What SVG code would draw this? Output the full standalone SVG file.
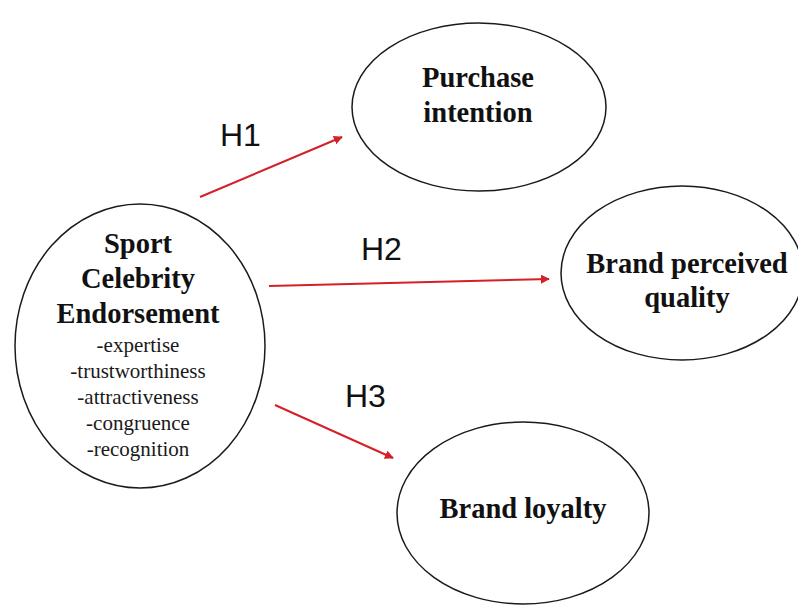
<svg xmlns="http://www.w3.org/2000/svg" width="798" height="605" viewBox="0 0 798 605">
  <defs>
    <marker id="arrow" viewBox="0 0 10 10" refX="9" refY="5" markerWidth="4.5" markerHeight="4.5" orient="auto" markerUnits="strokeWidth">
      <path d="M0,0 L10,5 L0,10 z" fill="#d42027"/>
    </marker>
    <style>
      .node { fill: #ffffff; stroke: #1a1a1a; stroke-width: 1.5; }
      .title { font-family: "Liberation Serif", "Times New Roman", serif; font-weight: bold; font-size: 28.5px; fill: #111111; text-anchor: middle; }
      .item { font-family: "Liberation Serif", "Times New Roman", serif; font-size: 21px; fill: #1a1a1a; text-anchor: middle; }
      .hyp { font-family: "Liberation Sans", Arial, sans-serif; font-size: 32px; fill: #111111; }
      .edge { stroke: #d42027; stroke-width: 2; fill: none; marker-end: url(#arrow); }
    </style>
  </defs>
  <rect width="798" height="605" fill="#ffffff"/>

  <g id="endorsement">
    <ellipse class="node" cx="140" cy="346" rx="125" ry="142"/>
    <text class="title" x="138" y="253">Sport</text>
    <text class="title" x="138" y="288">Celebrity</text>
    <text class="title" x="138" y="323">Endorsement</text>
    <text class="item" x="138" y="352">-expertise</text>
    <text class="item" x="138" y="378">-trustworthiness</text>
    <text class="item" x="138" y="404">-attractiveness</text>
    <text class="item" x="138" y="430">-congruence</text>
    <text class="item" x="138" y="456">-recognition</text>
  </g>

  <g id="purchase-intention">
    <ellipse class="node" cx="479" cy="107" rx="127" ry="84"/>
    <text class="title" x="478" y="87">Purchase</text>
    <text class="title" x="478" y="122">intention</text>
  </g>

  <g id="brand-perceived-quality">
    <ellipse class="node" cx="682" cy="273" rx="121" ry="87"/>
    <text class="title" x="687" y="273">Brand perceived</text>
    <text class="title" x="687" y="307">quality</text>
  </g>

  <g id="brand-loyalty">
    <ellipse class="node" cx="523" cy="513" rx="126" ry="91"/>
    <text class="title" x="523" y="518">Brand loyalty</text>
  </g>

  <g id="connectors">
    <line class="edge" x1="200" y1="197" x2="342" y2="137"/>
    <line class="edge" x1="269" y1="286" x2="549" y2="279"/>
    <line class="edge" x1="275" y1="405" x2="393" y2="458"/>
    <text class="hyp" x="220" y="146">H1</text>
    <text class="hyp" x="361" y="260">H2</text>
    <text class="hyp" x="345" y="407">H3</text>
  </g>
</svg>
